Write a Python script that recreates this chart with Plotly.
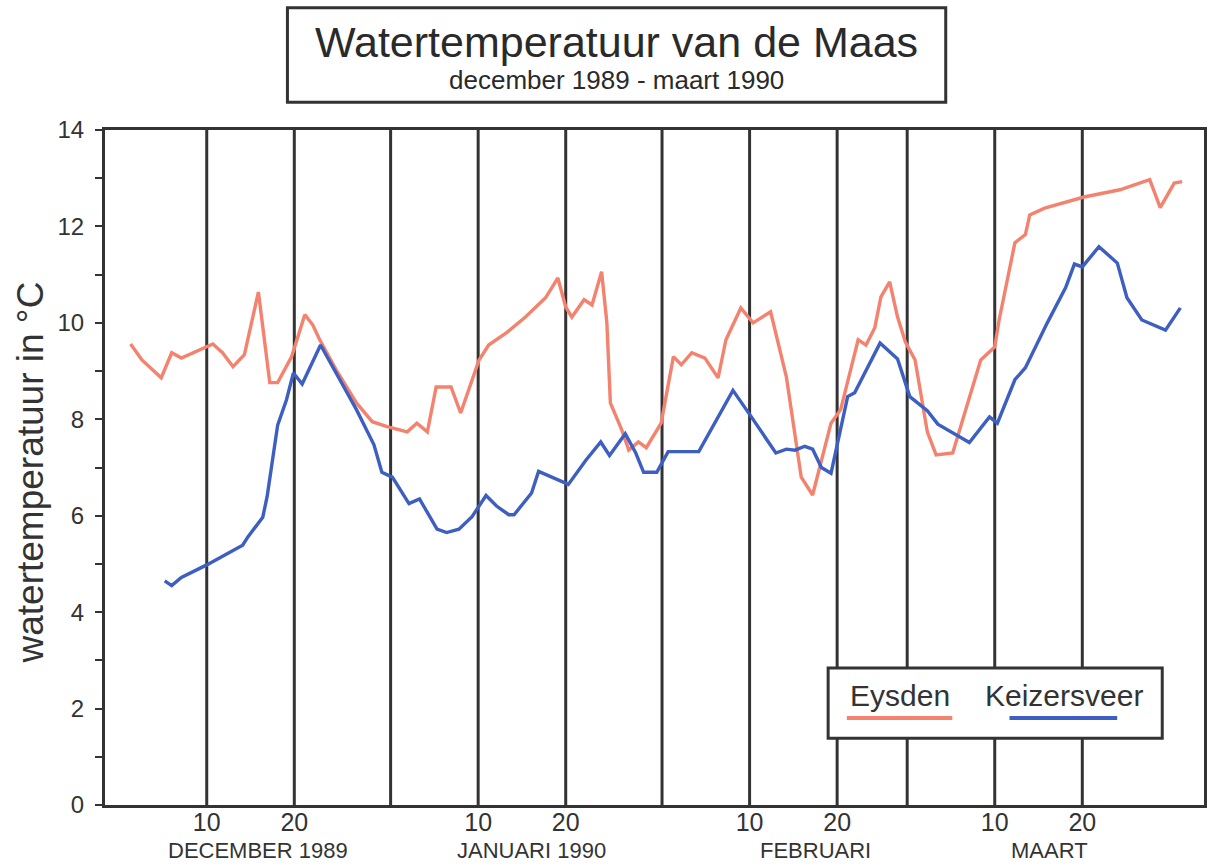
import plotly.graph_objects as go

# Day number counted from 1 December 1989 (= 1)
eysden_day = [1.3, 2.6, 4.8, 6.0, 7.1, 8.4, 10.0, 10.7, 11.8, 13.0, 14.3, 15.9, 17.2, 18.1, 19.7,
              21.2, 22.1, 22.9, 24.8, 27.1, 28.9, 30.6, 32.9, 34.0, 35.2, 36.2, 37.9, 39.0, 41.1,
              42.2, 44.2, 46.4, 48.7, 50.1, 51.0, 51.7, 53.1, 54.0, 55.1, 55.7, 56.1, 57.4, 58.2,
              59.3, 60.2, 61.9, 63.3, 64.2, 65.4, 66.9, 68.4, 69.3, 71.0, 72.4, 74.4, 76.2, 77.9,
              79.2, 81.3, 82.4, 84.4, 85.3, 86.3, 87.0, 88.0, 88.9, 89.8, 90.9, 92.3, 93.3, 95.2,
              98.4, 100.0, 100.5, 102.3, 103.5, 104.0, 105.7, 110.2, 114.3, 117.7, 118.9, 120.5, 121.4]
eysden_temp = [9.56, 9.23, 8.86, 9.38, 9.27, 9.38, 9.5, 9.56, 9.38, 9.09, 9.34, 10.64, 8.76, 8.76, 9.3,
               10.17, 9.96, 9.65, 9.02, 8.34, 7.95, 7.85, 7.74, 7.92, 7.74, 8.67, 8.67, 8.13, 9.23,
               9.54, 9.79, 10.12, 10.52, 10.93, 10.33, 10.12, 10.48, 10.37, 11.06, 10.0, 8.34, 7.78, 7.36,
               7.53, 7.41, 7.92, 9.3, 9.13, 9.38, 9.27, 8.86, 9.65, 10.31, 10.0, 10.23, 8.88, 6.8,
               6.43, 7.92, 8.2, 9.65, 9.54, 9.9, 10.54, 10.85, 10.12, 9.6, 9.23, 7.74, 7.26, 7.3,
               9.23, 9.5, 10.06, 11.66, 11.83, 12.24, 12.38, 12.61, 12.76, 12.97, 12.39, 12.9, 12.93]

keizersveer_day = [5.2, 6.0, 7.1, 10.0, 14.1, 14.7, 16.4, 16.9, 18.1, 19.1, 19.9, 20.9, 23.0, 24.8,
                   27.1, 29.1, 30.0, 31.2, 33.1, 34.3, 36.3, 37.4, 38.8, 40.3, 41.9, 43.1, 44.5, 45.1,
                   47.1, 47.9, 51.3, 53.3, 55.0, 56.0, 57.8, 59.0, 59.9, 61.4, 62.7, 66.2, 70.1, 72.2,
                   75.0, 76.2, 77.2, 78.3, 79.2, 80.2, 81.3, 83.2, 84.0, 86.9, 88.9, 90.3, 92.3, 93.5,
                   97.1, 99.4, 100.3, 102.3, 103.5, 106.0, 108.1, 109.1, 110.0, 111.9, 114.0, 115.1,
                   116.8, 119.5, 121.2]
keizersveer_temp = [4.65, 4.55, 4.72, 4.98, 5.39, 5.56, 5.97, 6.4, 7.88, 8.4, 8.96, 8.73, 9.54, 8.96,
                    8.2, 7.47, 6.9, 6.8, 6.25, 6.35, 5.72, 5.65, 5.72, 5.98, 6.42, 6.2, 6.02, 6.02,
                    6.47, 6.92, 6.65, 7.15, 7.53, 7.25, 7.7, 7.3, 6.9, 6.9, 7.33, 7.33, 8.6, 8.05,
                    7.3, 7.38, 7.36, 7.44, 7.38, 7.0, 6.88, 8.47, 8.55, 9.58, 9.25, 8.47, 8.18, 7.9,
                    7.52, 8.05, 7.92, 8.82, 9.07, 10.0, 10.73, 11.22, 11.16, 11.58, 11.24, 10.52,
                    10.06, 9.85, 10.31]

tick_days = [10, 20, 41, 51, 72, 82, 100, 110]
tick_text = ["10", "20", "10", "20", "10", "20", "10", "20"]
divider_days = [10, 20, 31, 41, 51, 62, 72, 82, 90, 100, 110]
month_labels = ["DECEMBER 1989", "JANUARI 1990", "FEBRUARI", "MAART"]
month_centers = [15.8, 47.1, 79.5, 106.2]
y_ticks = [0, 2, 4, 6, 8, 10, 12, 14]

EYS = "#F3826F"
KEI = "#3D5FC2"
INK = "#333333"
FONT = "Liberation Sans, Arial, sans-serif"

fig = go.Figure()
fig.add_trace(go.Scatter(x=eysden_day, y=eysden_temp, mode="lines", name="Eysden",
                         line=dict(color=EYS, width=3.4), showlegend=False))
fig.add_trace(go.Scatter(x=keizersveer_day, y=keizersveer_temp, mode="lines", name="Keizersveer",
                         line=dict(color=KEI, width=3.4), showlegend=False))

shapes = []
for d in divider_days:
    shapes.append(dict(type="line", xref="x", yref="paper", x0=d, x1=d, y0=0, y1=1,
                       line=dict(color=INK, width=3), layer="below"))
# title box
shapes.append(dict(type="rect", xref="paper", yref="paper", x0=0.166, x1=0.765, y0=1.041, y1=1.181,
                   line=dict(color=INK, width=3), fillcolor="white"))
# legend box
shapes.append(dict(type="rect", xref="paper", yref="paper", x0=0.658, x1=0.962, y0=0.099, y1=0.203,
                   line=dict(color=INK, width=3), fillcolor="white", layer="above"))
shapes.append(dict(type="line", xref="paper", yref="paper", x0=0.675, x1=0.771, y0=0.129, y1=0.129,
                   line=dict(color=EYS, width=4), layer="above"))
shapes.append(dict(type="line", xref="paper", yref="paper", x0=0.823, x1=0.921, y0=0.129, y1=0.129,
                   line=dict(color=KEI, width=4), layer="above"))

annotations = [
    dict(text="Watertemperatuur van de Maas", xref="paper", yref="paper", x=0.465, y=1.131,
         showarrow=False, font=dict(family=FONT, size=43, color="#2a2a2a"), xanchor="center", yanchor="middle"),
    dict(text="december 1989 - maart 1990", xref="paper", yref="paper", x=0.465, y=1.074,
         showarrow=False, font=dict(family=FONT, size=26, color="#2a2a2a"), xanchor="center", yanchor="middle"),
    dict(text="watertemperatuur in °C", xref="paper", yref="paper", x=-0.068, y=0.493, textangle=-90,
         showarrow=False, font=dict(family=FONT, size=37, color="#333333"), xanchor="center", yanchor="middle"),
    dict(text="Eysden", xref="paper", yref="paper", x=0.723, y=0.162, showarrow=False,
         font=dict(family=FONT, size=30, color="#333333"), xanchor="center", yanchor="middle"),
    dict(text="Keizersveer", xref="paper", yref="paper", x=0.873, y=0.162, showarrow=False,
         font=dict(family=FONT, size=30, color="#333333"), xanchor="center", yanchor="middle"),
]
for lbl, c in zip(month_labels, month_centers):
    annotations.append(dict(text=lbl, xref="x", yref="paper", x=c, y=-0.067, showarrow=False,
                            font=dict(family=FONT, size=22, color="#333333"),
                            xanchor="center", yanchor="middle"))

fig.update_layout(
    width=1214, height=864,
    margin=dict(l=105, r=7, t=130, b=59),
    paper_bgcolor="white", plot_bgcolor="white",
    shapes=shapes, annotations=annotations,
    font=dict(family=FONT, color="#333333"),
    xaxis=dict(range=[-1.62, 123.9], tickvals=tick_days, ticktext=tick_text, showgrid=False,
               zeroline=False, showline=True, linecolor=INK, linewidth=3, mirror=True,
               ticks="", ticklabelstandoff=-7, tickfont=dict(family=FONT, size=25, color="#333333")),
    yaxis=dict(range=[0, 14], tickvals=y_ticks, showgrid=False, zeroline=False, showline=True,
               linecolor=INK, linewidth=3, mirror=True, ticks="outside", ticklen=7, tickwidth=2,
               tickcolor=INK, ticklabelstandoff=6,
               minor=dict(dtick=1, ticks="outside", ticklen=7, tickwidth=2, tickcolor=INK),
               tickfont=dict(family=FONT, size=24, color="#333333")),
)

fig.write_html("out.html", config={"displayModeBar": False},
               post_script="document.body.style.margin='0';")
